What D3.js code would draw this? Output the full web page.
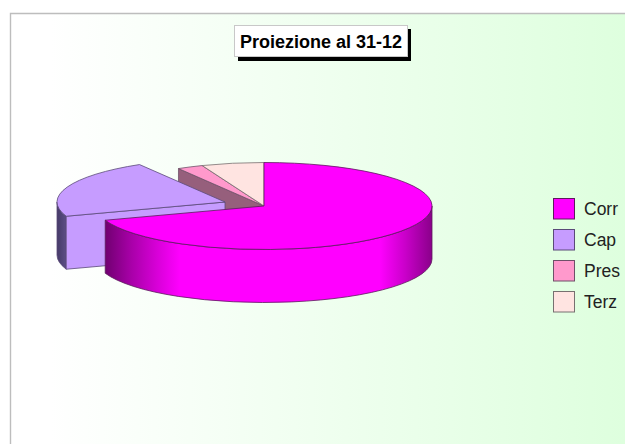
<!DOCTYPE html>
<html>
<head>
<meta charset="utf-8">
<script src="https://cdnjs.cloudflare.com/ajax/libs/d3/7.8.5/d3.min.js"></script>
<style>
  html, body { margin: 0; padding: 0; background: #fff; overflow: hidden; }
  text { font-family: "Liberation Sans", Arial, sans-serif; }
</style>
</head>
<body>
<div id="root"></div>
<script>
var titleText = 'Proiezione al 31-12';
var categories = ['Corr', 'Cap', 'Pres', 'Terz'];
var values = [69.7, 21.8, 2.5, 6.0];
var colors = ['#ff00ff', '#c69cff', '#ff99cc', '#ffe4e1'];
var edgeColors = ['#5c1a5c', '#5a4a78', '#6e5068', '#777070'];

var width = 625;
var height = 444;

var cx = 264, cy = 206;
var rx = 168, ry = 43.5;
var depth = 53;
// the Cap slice is pulled out of the pie
var capOffset = [-39, -4];

var svg = d3.select('#root')
  .append('svg')
    .attr('width', width)
    .attr('height', height)
    .style('display', 'block');

var defs = svg.append('defs');

function hGradient(id, x1, x2, stops) {
  var g = defs.append('linearGradient')
    .attr('id', id)
    .attr('gradientUnits', 'userSpaceOnUse')
    .attr('x1', x1).attr('x2', x2)
    .attr('y1', 0).attr('y2', 0);
  stops.forEach(function(s) {
    g.append('stop').attr('offset', s[0]).attr('stop-color', s[1]);
  });
}

hGradient('bg', 50, 625, [[0, '#ffffff'], [1, '#deffde']]);
hGradient('corrWall', 105, cx + rx, [[0, '#700070'], [0.08, '#a800a8'], [0.16, '#d800d8'], [0.23, '#ff00ff'], [0.84, '#ff00ff'], [0.92, '#c800c8'], [1, '#8a008a']]);
hGradient('capWall', cx - rx + capOffset[0], cx - rx + capOffset[0] + 10, [[0, '#453a68'], [1, '#5f5088']]);

// plot area with its grey frame on the top and left
svg.append('rect')
  .attr('x', 10).attr('y', 13)
  .attr('width', width - 10).attr('height', height - 13)
  .attr('fill', 'url(#bg)');
svg.append('path')
  .attr('d', 'M10.5,' + height + 'V13.5H' + width)
  .attr('fill', 'none')
  .attr('stroke', '#bdbdbd')
  .attr('stroke-width', 1.4);

var pie = d3.pie().sort(null).value(function(d) { return d; });
var slices = pie(values);

function pt(a, ox, oy) {
  return [ox + rx * Math.sin(a), oy - ry * Math.cos(a)];
}

function topPath(s, ox, oy) {
  var p0 = pt(s.startAngle, ox, oy), p1 = pt(s.endAngle, ox, oy);
  var large = s.endAngle - s.startAngle > Math.PI ? 1 : 0;
  return 'M' + ox + ',' + oy + 'L' + p0 + 'A' + rx + ',' + ry + ' 0 ' + large + ' 1 ' + p1 + 'Z';
}

function wallPath(a0, a1, ox, oy) {
  var p0 = pt(a0, ox, oy), p1 = pt(a1, ox, oy);
  var large = a1 - a0 > Math.PI ? 1 : 0;
  return 'M' + p0 +
    'A' + rx + ',' + ry + ' 0 ' + large + ' 1 ' + p1 +
    'V' + (p1[1] + depth) +
    'A' + rx + ',' + ry + ' 0 ' + large + ' 0 ' + p0[0] + ',' + (p0[1] + depth) + 'Z';
}

function facePath(a, ox, oy) {
  var p = pt(a, ox, oy);
  return 'M' + ox + ',' + oy + 'L' + p + 'V' + (p[1] + depth) + 'L' + ox + ',' + (oy + depth) + 'Z';
}

var pieG = svg.append('g').attr('stroke-width', 0.8).attr('stroke-linejoin', 'round');
var corr = slices[0], cap = slices[1], pres = slices[2], terz = slices[3];
var capX = cx + capOffset[0], capY = cy + capOffset[1];

// back to front
pieG.append('path').attr('d', facePath(pres.startAngle, cx, cy))
  .attr('fill', '#965f7c').attr('stroke', edgeColors[2]);
pieG.append('path').attr('d', topPath(pres, cx, cy))
  .attr('fill', colors[2]).attr('stroke', edgeColors[2]);
pieG.append('path').attr('d', topPath(terz, cx, cy))
  .attr('fill', colors[3]).attr('stroke', edgeColors[3]);

pieG.append('path').attr('d', wallPath(cap.startAngle, 1.5 * Math.PI, capX, capY))
  .attr('fill', 'url(#capWall)').attr('stroke', edgeColors[1]);
pieG.append('path').attr('d', facePath(cap.startAngle, capX, capY))
  .attr('fill', colors[1]).attr('stroke', edgeColors[1]);
pieG.append('path').attr('d', topPath(cap, capX, capY))
  .attr('fill', colors[1]).attr('stroke', edgeColors[1]);

pieG.append('path').attr('d', wallPath(0.5 * Math.PI, corr.endAngle, cx, cy))
  .attr('fill', 'url(#corrWall)').attr('stroke', edgeColors[0]);
pieG.append('path').attr('d', topPath(corr, cx, cy))
  .attr('fill', colors[0]).attr('stroke', edgeColors[0]);

// title box with hard shadow
svg.append('rect')
  .attr('x', 238).attr('y', 29).attr('width', 173).attr('height', 32)
  .attr('fill', '#000');
svg.append('rect')
  .attr('x', 234.5).attr('y', 25.5).attr('width', 173).attr('height', 31)
  .attr('fill', '#fff').attr('stroke', '#c8c8c8');
svg.append('text')
  .attr('x', 321).attr('y', 47.5)
  .attr('text-anchor', 'middle')
  .attr('font-size', 18).attr('font-weight', 'bold')
  .attr('fill', '#000')
  .text(titleText);

// legend
var legendY = d3.scaleBand().domain(categories).range([198, 322]);
var legend = svg.append('g').selectAll('g')
  .data(categories)
  .enter().append('g')
    .attr('transform', function(d) { return 'translate(0,' + legendY(d) + ')'; });

legend.append('rect')
  .attr('x', 553.5).attr('y', 0.5)
  .attr('width', 21).attr('height', 20.5)
  .attr('fill', function(d, i) { return colors[i]; })
  .attr('stroke', function(d, i) { return edgeColors[i]; });

legend.append('text')
  .attr('x', 584).attr('y', 17)
  .attr('font-size', 17.5)
  .attr('fill', '#222')
  .text(function(d) { return d; });
</script>
</body>
</html>
